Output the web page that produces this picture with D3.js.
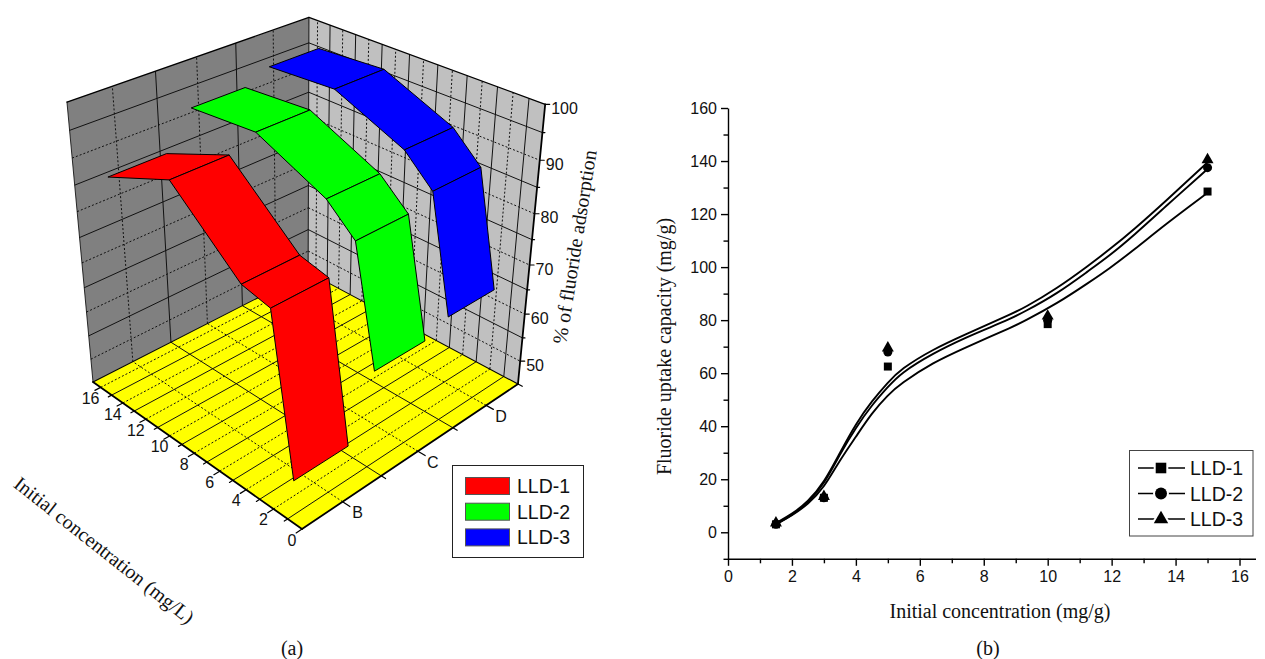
<!DOCTYPE html>
<html>
<head>
<meta charset="utf-8">
<script src="https://cdnjs.cloudflare.com/ajax/libs/d3/7.8.5/d3.min.js"></script>
<style>
body { margin: 0; background: #fff; }
text { fill: #111; }
.sans { font-family: "Liberation Sans", Arial, sans-serif; }
.serif { font-family: "Liberation Serif", "Times New Roman", serif; }
</style>
</head>
<body>
<div id="graph"></div>
<script>
// ---------- data, panel (a) ----------
var seriesNames = ['LLD-1', 'LLD-2', 'LLD-3'];
var seriesColors = ['#ff0000', '#00ff00', '#0000ff'];
var concLevels = [1.5, 3, 5, 10, 15];
var ribbonCats = [2, 3, 4];
var adsorption1 = [50, 80, 81.3, 93, 87.5];
var adsorption2 = [62, 84.2, 89.1, 95.1, 94.1];
var adsorption3 = [64.1, 86.2, 91.4, 97.1, 96.3];
var catTicks = [2, 3, 4];
var catLabels = ['B', 'C', 'D'];

// ---------- data, panel (b) ----------
var markers1 = [3, 13, 62.5, 78.5, 128.5];
var markers2 = [3, 13, 68, 80, 137.5];
var markers3 = [3.5, 13.5, 69.5, 81.5, 140.5];
var curveX = [1.5, 2, 2.5, 3, 3.5, 4, 4.5, 5, 5.4, 6.4, 7.5, 8.2, 8.8, 9.25, 10.3, 11.3, 11.9, 12.7, 13.7, 15];
var curve1 = [3, 6.3, 10.5, 16.7, 27.3, 36, 45, 51.8, 56, 64, 70, 73.8, 76.9, 79.5, 86.3, 94.3, 99.2, 106.5, 116.3, 128];
var curve2 = [3, 6.5, 11, 18, 29.5, 39.5, 48, 54.8, 60, 67.5, 73.8, 77.3, 80.3, 83, 90, 98.8, 104, 112, 123, 137];
var curve3 = [3.5, 6.8, 11.5, 18.6, 30, 41, 49.5, 56.5, 61.5, 69, 75, 78.8, 82, 84.5, 92, 100.8, 106.3, 114.2, 125, 139.5];

var svg = d3.select('#graph').append('svg')
	.attr('width', 1265)
	.attr('height', 659)
	.style('display', 'block');

// ---------------------------//
//       PANEL A CAMERA       //
// ---------------------------//
var uScale = d3.scaleLinear().domain([0, 16.7]).range([0, 1]);
var vScale = d3.scaleLinear().domain([1.5, 4.5]).range([0, 1]);
var wScale = d3.scaleLinear().domain([45, 100]).range([0, 1]);

var origin = [302, 529];
var uVec = [-194.3, -86.6], vVec = [297.8, -84.3], wVec = [-38.8, -337.4];
var cu = 0.158, cv = 0.158, cw = -0.129;

function project(c, k, z) {
	var u = uScale(c), v = vScale(k), w = wScale(z);
	var d = 1 + cu * u + cv * v + cw * w;
	return [
		(origin[0] + u * uVec[0] + v * vVec[0] + w * wVec[0]) / d,
		(origin[1] + u * uVec[1] + v * vVec[1] + w * wVec[1]) / d
	];
}

var a = svg.append('g');
var poly = d3.line().curve(d3.curveLinearClosed);
var cMin = 0, cMax = 16.7, kMin = 1.5, kMax = 4.5, zMin = 45, zMax = 100;

// walls and floor
a.append('path')
	.attr('d', poly([project(cMax, kMin, zMin), project(cMax, kMin, zMax), project(cMax, kMax, zMax), project(cMax, kMax, zMin)]))
	.attr('fill', '#808080');
a.append('path')
	.attr('d', poly([project(cMax, kMax, zMin), project(cMax, kMax, zMax), project(cMin, kMax, zMax), project(cMin, kMax, zMin)]))
	.attr('fill', '#c0c0c0');
a.append('path')
	.attr('d', poly([project(cMin, kMin, zMin), project(cMax, kMin, zMin), project(cMax, kMax, zMin), project(cMin, kMax, zMin)]))
	.attr('fill', '#ffff00');

function gridLine(p, q, dotted) {
	a.append('line')
		.attr('x1', p[0]).attr('y1', p[1])
		.attr('x2', q[0]).attr('y2', q[1])
		.attr('stroke', '#111')
		.attr('stroke-width', 1)
		.attr('stroke-dasharray', dotted ? '2,2' : null);
}

// major positions are dotted, the minor ones solid
d3.range(1, 17).forEach(function(c) {
	var dotted = c % 2 === 0;
	gridLine(project(c, kMin, zMin), project(c, kMax, zMin), dotted);
	gridLine(project(c, kMax, zMin), project(c, kMax, zMax), dotted);
});
d3.range(2, 4.5, 0.5).forEach(function(k) {
	var dotted = k % 1 === 0;
	gridLine(project(cMin, k, zMin), project(cMax, k, zMin), dotted);
	gridLine(project(cMax, k, zMin), project(cMax, k, zMax), dotted);
});
d3.range(50, 100, 5).forEach(function(z) {
	var dotted = z % 10 === 0;
	gridLine(project(cMax, kMin, z), project(cMax, kMax, z), dotted);
	gridLine(project(cMax, kMax, z), project(cMin, kMax, z), dotted);
});

// outlines
function edge(p, q, w) {
	a.append('line')
		.attr('x1', p[0]).attr('y1', p[1])
		.attr('x2', q[0]).attr('y2', q[1])
		.attr('stroke', '#000')
		.attr('stroke-width', w)
		.attr('stroke-linecap', 'round');
}
edge(project(cMax, kMin, zMax), project(cMax, kMax, zMax), 1.3);
edge(project(cMax, kMax, zMax), project(cMin, kMax, zMax), 1.3);
edge(project(cMax, kMin, zMin), project(cMax, kMin, zMax), 0.8);
edge(project(cMax, kMax, zMin), project(cMax, kMax, zMax), 0.9);
edge(project(cMax, kMin, zMin), project(cMax, kMax, zMin), 1.1);
edge(project(cMax, kMax, zMin), project(cMin, kMax, zMin), 1.1);
edge(project(cMin, kMin, zMin), project(cMax, kMin, zMin), 1.8);
edge(project(cMin, kMin, zMin), project(cMin, kMax, zMin), 1.8);
edge(project(cMin, kMax, zMin), project(cMin, kMax, zMax), 1.8);

// ribbons, far one first
var halfWidth = 0.34;
[adsorption3, adsorption2, adsorption1].forEach(function(vals, i) {
	var idx = 2 - i;
	var k = ribbonCats[idx];
	for (var j = concLevels.length - 2; j >= 0; j--) {
		a.append('path')
			.attr('d', poly([
				project(concLevels[j], k - halfWidth, vals[j]),
				project(concLevels[j + 1], k - halfWidth, vals[j + 1]),
				project(concLevels[j + 1], k + halfWidth, vals[j + 1]),
				project(concLevels[j], k + halfWidth, vals[j])
			]))
			.attr('fill', seriesColors[idx])
			.attr('stroke', '#000')
			.attr('stroke-width', 1)
			.attr('stroke-linejoin', 'round');
	}
});

// concentration ticks on the front left edge
d3.range(0, 17).forEach(function(c) {
	var major = c % 2 === 0;
	var p = project(c, kMin, zMin), q = project(c, kMin - (major ? 0.07 : 0.04), zMin);
	edge(p, q, 1.2);
	if (major) {
		a.append('text').attr('class', 'sans')
			.attr('x', p[0] - 10).attr('y', p[1] + 16.5)
			.attr('text-anchor', 'middle').attr('font-size', 16)
			.text(c);
	}
});

// category ticks on the front right edge
d3.range(2, 5, 0.5).forEach(function(k) {
	var major = k % 1 === 0;
	var p = project(cMin, k, zMin), q = project(cMin - (major ? 0.5 : 0.3), k, zMin);
	edge(p, q, 1.2);
});
catTicks.forEach(function(k, i) {
	var p = project(cMin, k, zMin);
	a.append('text').attr('class', 'sans')
		.attr('x', p[0] + 15).attr('y', p[1] + 16.5)
		.attr('text-anchor', 'middle').attr('font-size', 16)
		.text(catLabels[i]);
});

// percent ticks on the right wall edge
d3.range(50, 105, 5).forEach(function(z) {
	var major = z % 10 === 0;
	var p = project(cMin, kMax, z);
	edge(p, [p[0] + (major ? 4.5 : 2.5), p[1]], 1.2);
	if (major) {
		a.append('text').attr('class', 'sans')
			.attr('x', p[0] + 6).attr('y', p[1] + 9.5)
			.attr('font-size', 16)
			.text(z);
	}
});

a.append('text').attr('class', 'serif')
	.attr('transform', 'translate(581.4,248) rotate(-81)')
	.attr('text-anchor', 'middle').attr('font-size', 20)
	.text('% of fluoride adsorption');
a.append('text').attr('class', 'serif')
	.attr('transform', 'translate(100,555.5) rotate(38.4)')
	.attr('text-anchor', 'middle').attr('font-size', 20)
	.text('Initial concentration (mg/L)');
a.append('text').attr('class', 'serif')
	.attr('x', 292).attr('y', 655)
	.attr('text-anchor', 'middle').attr('font-size', 20)
	.text('(a)');

// legend
a.append('rect')
	.attr('x', 452.5).attr('y', 465.5).attr('width', 131).attr('height', 92)
	.attr('fill', '#fff').attr('stroke', '#222').attr('stroke-width', 1);
seriesNames.forEach(function(name, i) {
	a.append('rect')
		.attr('x', 465.5).attr('y', 477.5 + i * 25.7).attr('width', 44).attr('height', 17)
		.attr('fill', seriesColors[i]).attr('stroke', '#555').attr('stroke-width', 1);
	a.append('text').attr('class', 'sans')
		.attr('x', 517).attr('y', 493 + i * 25.7)
		.attr('font-size', 19.5)
		.text(name);
});

// ---------------------------//
//          PANEL B           //
// ---------------------------//
var b = svg.append('g');
var x = d3.scaleLinear().domain([0, 16.5]).range([728, 1255.5]);
var y = d3.scaleLinear().domain([-10, 160]).range([558.8, 108]);

var xAxis = b.append('g')
	.attr('transform', 'translate(0,' + y(-10) + ')')
	.call(d3.axisBottom(x).tickValues(d3.range(0, 17)).tickSizeOuter(0)
		.tickFormat(function(d) { return d % 2 === 0 ? d : ''; }));
xAxis.selectAll('.tick line').attr('y2', function(d) { return d % 2 === 0 ? 7 : 4.5; });
xAxis.selectAll('.tick text').attr('y', 12).attr('dy', '0.71em');

var yAxis = b.append('g')
	.attr('transform', 'translate(' + x(0) + ',0)')
	.call(d3.axisLeft(y).tickValues(d3.range(-10, 170, 10)).tickSizeOuter(0)
		.tickFormat(function(d) { return d % 20 === 0 ? d : ''; }));
yAxis.selectAll('.tick line').attr('x2', function(d) { return d % 20 === 0 ? -7 : -4.5; });
yAxis.selectAll('.tick text').attr('x', -11).attr('dy', '0.34em');

b.selectAll('.domain, .tick line').attr('stroke', '#000').attr('stroke-width', 1.4);
b.selectAll('.tick text').attr('class', 'sans').attr('font-size', 16).attr('font-family', null).attr('fill', '#111');

var lineGen = d3.line()
	.x(function(d, i) { return x(curveX[i]); })
	.y(function(d) { return y(d); })
	.curve(d3.curveBasis);

[curve1, curve2, curve3].forEach(function(c) {
	b.append('path')
		.attr('d', lineGen(c))
		.attr('fill', 'none')
		.attr('stroke', '#000')
		.attr('stroke-width', 1.9);
});

var symbols = [d3.symbolSquare, d3.symbolCircle, d3.symbolTriangle];
[markers1, markers2, markers3].forEach(function(vals, i) {
	b.selectAll('.m' + i)
		.data(vals)
		.enter()
		.append('path')
		.attr('class', 'm' + i)
		.attr('d', d3.symbol().type(symbols[i]).size(i === 2 ? 62 : 64))
		.attr('transform', function(d, j) { return 'translate(' + x(concLevels[j]) + ',' + y(d) + ')'; })
		.attr('fill', '#000');
});

b.append('text').attr('class', 'serif')
	.attr('x', 1000).attr('y', 618)
	.attr('text-anchor', 'middle').attr('font-size', 20)
	.text('Initial concentration (mg/g)');
b.append('text').attr('class', 'serif')
	.attr('transform', 'translate(671,346.5) rotate(-90)')
	.attr('text-anchor', 'middle').attr('font-size', 20)
	.text('Fluoride uptake capacity (mg/g)');
b.append('text').attr('class', 'serif')
	.attr('x', 988).attr('y', 655)
	.attr('text-anchor', 'middle').attr('font-size', 20)
	.text('(b)');

// legend
b.append('rect')
	.attr('x', 1129.5).attr('y', 450.5).attr('width', 123.5).attr('height', 85.5)
	.attr('fill', '#fff').attr('stroke', '#444').attr('stroke-width', 1);
seriesNames.forEach(function(name, i) {
	var ly = 468 + i * 25.5;
	b.append('line')
		.attr('x1', 1138).attr('x2', 1185).attr('y1', ly).attr('y2', ly)
		.attr('stroke', '#000').attr('stroke-width', 1.5);
	b.append('path')
		.attr('d', d3.symbol().type(symbols[i]).size(i === 2 ? 90 : 112))
		.attr('transform', 'translate(1161,' + ly + ')')
		.attr('fill', '#000')
		.attr('stroke', '#fff')
		.attr('stroke-width', 4)
		.attr('paint-order', 'stroke');
	b.append('text').attr('class', 'sans')
		.attr('x', 1190).attr('y', ly + 7)
		.attr('font-size', 19.5)
		.text(name);
});
</script>
</body>
</html>
